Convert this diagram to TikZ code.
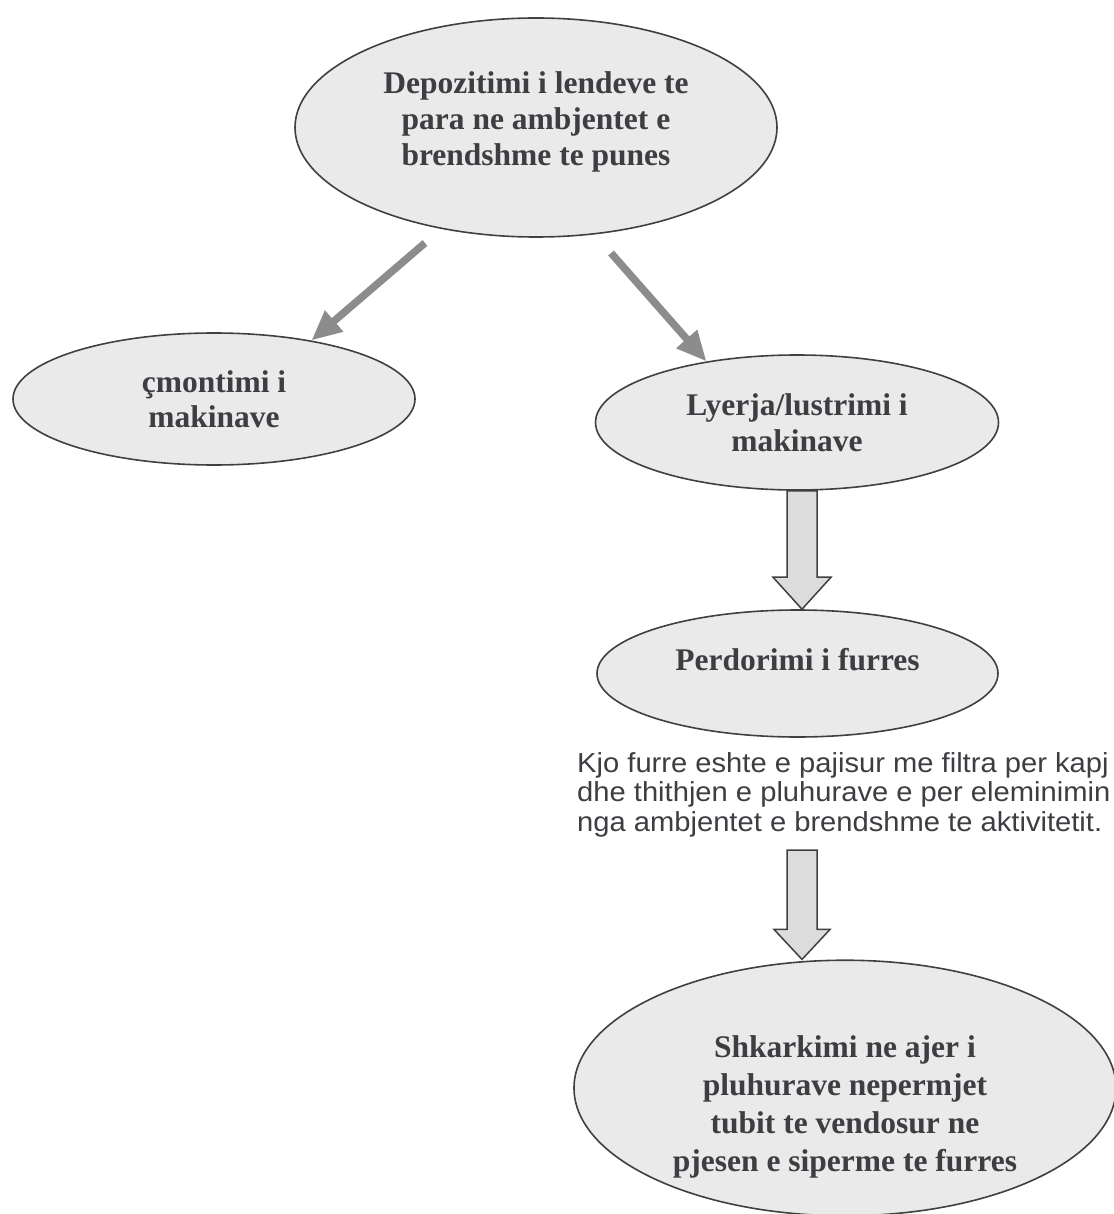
\documentclass[tikz,border=0pt]{standalone}
\usepackage{fontspec}
\setmainfont{Liberation Serif}
\newfontfamily\notefont[FakeStretch=1.06]{Liberation Sans}
\usetikzlibrary{arrows.meta,calc,shapes.geometric}
\definecolor{ink}{RGB}{60,62,66}
\definecolor{efill}{RGB}{234,234,234}
\definecolor{edraw}{RGB}{64,64,64}
\definecolor{arr}{RGB}{140,140,140}
\definecolor{bfill}{RGB}{220,220,220}
\begin{document}
\begin{tikzpicture}[x=1pt,y=-1pt,
  oval/.style={ellipse, draw=edraw, line width=1.6pt, fill=efill, inner sep=0pt,
    text=ink, font=\fontsize{31.5}{35.5}\selectfont\bfseries, align=center},
  diag/.style={draw=arr, line width=7.5pt, -{Triangle[length=30pt,width=26pt]}},
  blk/.style={draw=edraw, line width=1.5pt, fill=bfill, line join=miter},
  note/.style={font=\notefont\fontsize{27.5}{29.5}\selectfont, text=ink, align=left,
    inner sep=0pt, anchor=north west}]
\useasboundingbox (0,0) rectangle (1113,1214);
\fill[white] (0,0) rectangle (1113,1214);

\node[oval, minimum width=482pt, minimum height=219pt,
  font=\fontsize{31.5}{36}\selectfont\bfseries] (dep) at (536,127.5)
  {Depozitimi i lendeve te\\para ne ambjentet e\\brendshme te punes\rule[-18pt]{0pt}{0pt}};
\node[oval, minimum width=402pt, minimum height=132pt] (cm) at (214,399)
  {çmontimi i\\makinave};
\node[oval, minimum width=403pt, minimum height=135pt] (ly) at (797,422.5)
  {Lyerja/lustrimi i\\makinave};
\node[oval, minimum width=401pt, minimum height=127pt, text depth=29pt] (pe) at (797.5,673.5)
  {Perdorimi i furres};
\node[oval, minimum width=542pt, minimum height=238pt,
  font=\fontsize{31.5}{38}\selectfont\bfseries] (sh) at (845,1088)
  {\rule{0pt}{60pt}Shkarkimi ne ajer i\\pluhurave nepermjet\\tubit te vendosur ne\\pjesen e siperme te furres};

\node[note] (nt) at (577,752)
  {Kjo furre eshte e pajisur me filtra per kapj\\dhe thithjen e pluhurave e per eleminimin\\nga ambjentet e brendshme te aktivitetit.};

% diagonal arrows
\coordinate (a1s) at (425,243);
\coordinate (a2s) at (611,253);
\draw[diag] (a1s) -- (cm.31.5);
\draw[diag] (a2s) -- (ly.146);

% block arrow Lyerja -> Perdorimi
\coordinate (b3s) at ($(ly.south)+(5,0)$);
\coordinate (b3e) at (b3s |- pe.north);
\draw[blk] ($(b3s)+(-15,0)$) -- ($(b3e)+(-15,-32)$) -- ($(b3e)+(-29,-32)$) -- (b3e)
  -- ($(b3e)+(29,-32)$) -- ($(b3e)+(15,-32)$) -- ($(b3s)+(15,0)$) -- cycle;

% block arrow note -> Shkarkimi
\coordinate (b4s) at (802,850);
\coordinate (b4e) at (b4s |- sh.north);
\draw[blk] ($(b4s)+(-15,0)$) -- ($(b4e)+(-15,-30)$) -- ($(b4e)+(-28,-30)$) -- (b4e)
  -- ($(b4e)+(28,-30)$) -- ($(b4e)+(15,-30)$) -- ($(b4s)+(15,0)$) -- cycle;
\end{tikzpicture}
\end{document}
